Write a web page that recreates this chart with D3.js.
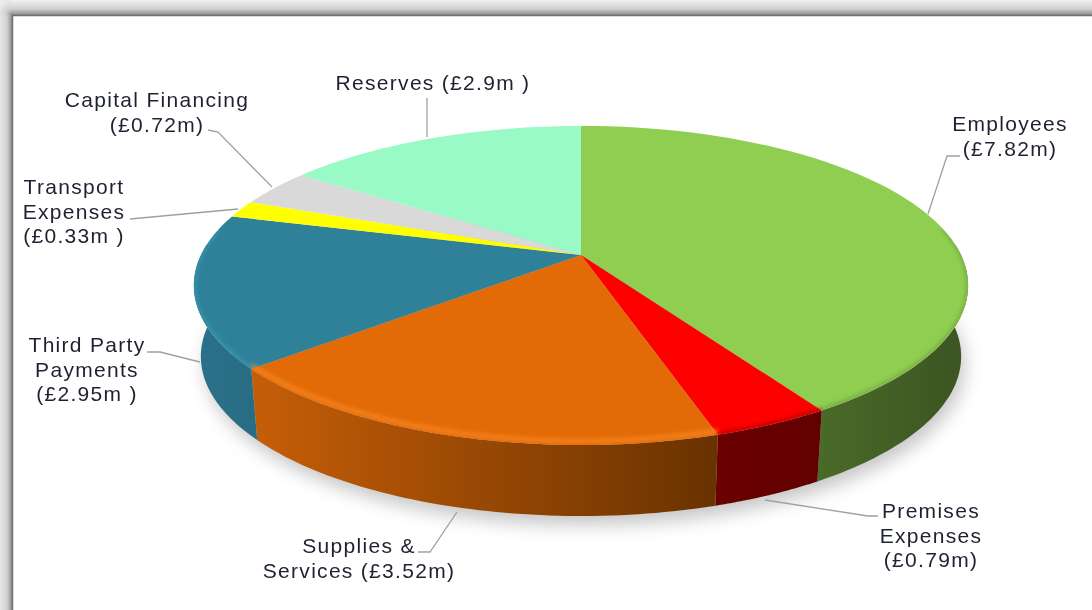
<!DOCTYPE html>
<html><head><meta charset="utf-8">
<script src="https://cdn.jsdelivr.net/npm/d3@7"></script>
<style>html,body{margin:0;padding:0;background:#fff;overflow:hidden}svg{display:block}</style>
</head><body><svg id="c" width="1092" height="610"></svg>
<script>
const categories = ["Employees","Premises Expenses","Supplies & Services","Third Party Payments","Transport Expenses","Capital Financing","Reserves"];
const values = [7.82,0.79,3.52,2.95,0.33,0.72,2.9];
const topColors = ["#8fce50","#ff0000","#e26b07","#2f8199","#ffff00","#d9d9d9","#99fac6"];
const wallLeft = ["#4a6a28","#6a0000","#c65e08","#2a7088","#999900","#999","#6ab"];
const wallRight = ["#3c5522","#620000","#693200","#286d84","#999900","#999","#6ab"];
const rimColors = ["#6f9e40","#a80000","#ff8a28","#3a9cb8","#ffff00","#d9d9d9","#99fac6"];
const labelLines = [
 ["Employees","(£7.82m)"],["Premises","Expenses","(£0.79m)"],["Supplies &","Services (£3.52m)"],
 ["Third Party","Payments","(£2.95m )"],["Transport","Expenses","(£0.33m )"],["Capital Financing","(£0.72m)"],["Reserves (£2.9m )"]];
const labelAnchor = [[1010,131],[931,518],[359,553],[87,352],[74,194],[157,107],[433,90]];
const leaders = [
 [[928,214],[947,156],[960,156]],
 [[765,500],[868,516],[878,516]],
 [[457,512],[430,552],[418,552]],
 [[200,362],[160,352],[147,352]],
 [[238,209],[130,219]],
 [[272,187],[218,132],[208,130]],
 [[427,137],[427,98]]];

const svg = d3.select("#c");
const defs = svg.append("defs");
const blur=(id,s)=>defs.append("filter").attr("id",id).attr("filterUnits","userSpaceOnUse")
  .attr("x",0).attr("y",0).attr("width",1092).attr("height",610)
  .append("feGaussianBlur").attr("stdDeviation",s);
blur("sh",9); blur("b1",2.2); blur("b0",0.45);
const grad=(id,x1,y1,x2,y2,stops)=>{const g=defs.append("linearGradient").attr("id",id).attr("x1",x1).attr("y1",y1).attr("x2",x2).attr("y2",y2);
  stops.forEach(([o,c])=>g.append("stop").attr("offset",o).attr("stop-color",c));};
grad("gt",0,0,0,1,[[0,"#f0f0f0"],[.6,"#d0d0d0"],[1,"#8a8a8a"]]);
grad("gl",0,0,1,0,[[0,"#e6e6e6"],[.6,"#cfcfcf"],[1,"#8a8a8a"]]);
const rg=defs.append("radialGradient").attr("id","gc").attr("gradientUnits","userSpaceOnUse")
  .attr("cx",12).attr("cy",15).attr("r",15);
[[0,"#8a8a8a"],[.4,"#d0d0d0"],[1,"#ececec"]].forEach(([o,c])=>rg.append("stop").attr("offset",o).attr("stop-color",c));

// frame
svg.append("rect").attr("x",12).attr("width",1080).attr("height",15).attr("fill","url(#gt)");
svg.append("rect").attr("y",15).attr("width",12).attr("height",595).attr("fill","url(#gl)");
svg.append("rect").attr("width",12).attr("height",15).attr("fill","url(#gc)");
svg.append("path").attr("d","M12.5 610V15.5H1092").attr("fill","none").attr("stroke","#707070").attr("stroke-width",1.5);

// perspective pie
const cx=581, cy=255, A=380, B=153.7, K=0.191, DEPTH=71, SHRINK=0.982;
const px=a=>{const u=Math.sin(a),v=-Math.cos(a);return cx+A*u/(1-K*v);};
const py=a=>{const v=-Math.cos(a);return cy+B*v/(1-K*v);};
const bx=a=>cx+(px(a)-cx)*SHRINK, by=a=>py(a)+DEPTH;
const samples=(a0,a1)=>d3.range(0,61).map(i=>a0+(a1-a0)*i/60);
const line=d3.line();
const pie=d3.pie().sort(null).value(d=>d)(values);
const rad=d=>d*Math.PI/180;

// shadow
svg.append("path").attr("d",line(samples(0,2*Math.PI).map(a=>[bx(a)+4,by(a)+9]))+"Z")
  .attr("fill","#777").attr("opacity",.42).attr("filter","url(#sh)");

// leaders under the pie
const g=svg.append("g");
g.selectAll("path.l").data(leaders).join("path").attr("class","l").attr("d",d=>line(d))
  .attr("fill","none").attr("stroke","#a0a0a0").attr("stroke-width",1.3).attr("filter","url(#b0)");

// walls
const vis0=rad(86), vis1=rad(274);
pie.forEach((s,i)=>{
  const a0=Math.max(s.startAngle,vis0), a1=Math.min(s.endAngle,vis1);
  if(a1<=a0) return;
  const xs=[px(a0),px(a1)];
  const wg=defs.append("linearGradient").attr("id","w"+i).attr("gradientUnits","userSpaceOnUse")
    .attr("x1",Math.min(...xs)).attr("x2",Math.max(...xs)).attr("y1",0).attr("y2",0);
  wg.append("stop").attr("offset",0).attr("stop-color",wallLeft[i]);
  wg.append("stop").attr("offset",1).attr("stop-color",wallRight[i]);
  const ss=samples(a0,a1);
  const pts=ss.map(a=>[px(a),py(a)]).concat(ss.slice().reverse().map(a=>[bx(a),by(a)]));
  svg.append("path").attr("d",line(pts)+"Z").attr("fill",`url(#w${i})`);
});

// top faces
const tops=svg.append("g");
pie.forEach((s,i)=>{
  const pts=[[cx,cy]].concat(samples(s.startAngle,s.endAngle).map(a=>[px(a),py(a)]));
  tops.append("path").attr("d",line(pts)+"Z").attr("fill",topColors[i]);
});
// bevel along the front rim
defs.append("clipPath").attr("id","tc").append("path").attr("d",line(samples(0,2*Math.PI).map(a=>[px(a),py(a)]))+"Z");
const bev=svg.append("g").attr("clip-path","url(#tc)");
pie.forEach((s,i)=>{
  const a0=Math.max(s.startAngle,rad(80)), a1=Math.min(s.endAngle,rad(280));
  if(a1<=a0) return;
  bev.append("path").attr("d",line(samples(a0,a1).map(a=>[px(a),py(a)-(i===2?4:0.5)])))
    .attr("fill","none").attr("stroke",rimColors[i]).attr("stroke-width",3).attr("filter","url(#b1)");
});

// labels
labelLines.forEach((ls,i)=>{
  ls.forEach((t,j)=>{
    svg.append("text").attr("x",labelAnchor[i][0]).attr("y",labelAnchor[i][1]+j*24.5)
      .attr("text-anchor","middle").attr("font-family","Liberation Sans, Arial, sans-serif")
      .attr("font-size",21).attr("letter-spacing",1.3).attr("fill","#1f2230").attr("filter","url(#b0)").text(t);
  });
});
</script></body></html>
